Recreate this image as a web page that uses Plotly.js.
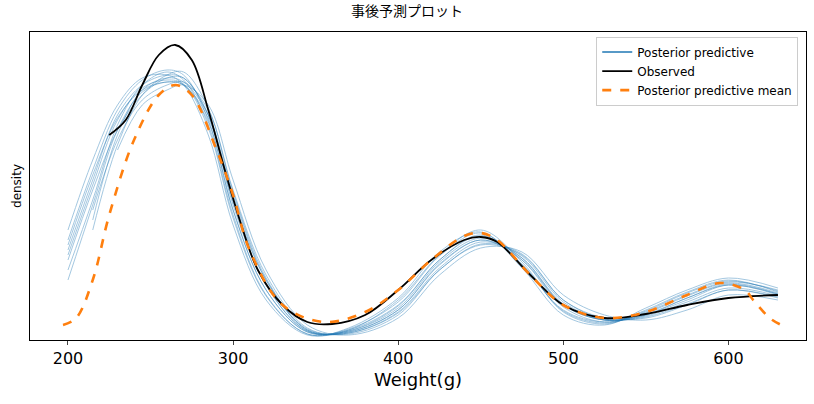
<!DOCTYPE html>
<html lang="ja">
  <head>
    <meta charset="UTF-8" />
    <script src="https://cdn.plot.ly/plotly-3.0.1.min.js"></script>
    <style>
      body { margin: 0; background: #fff; }
      #plot { width: 814px; height: 404px; }
    </style>
  </head>
  <body>
    <div id="plot"></div>
    <script>
      // weight grid shared by the posterior predictive draws
      const gridX = [200, 215, 230, 245, 260, 270, 285, 300, 320, 345, 370, 400, 425, 450, 475, 500, 525, 550, 575, 600, 630];
      const ppDraws = [
        [80, 150, 210, 245, 262, 262, 225, 140, 60, 10, 8, 30, 75, 100, 80, 35, 20, 25, 40, 55, 45],
        [100, 170, 230, 260, 270, 265, 220, 130, 50, 8, 10, 35, 80, 105, 75, 30, 18, 28, 45, 58, 50],
        [null, 130, 200, 240, 255, 258, 230, 150, 65, 12, 6, 25, 70, 95, 85, 40, 22, 22, 35, 50, 42],
        [70, 140, 215, 255, 268, 260, 215, 125, 45, 6, 10, 40, 85, 110, 78, 28, 16, 30, 48, 60, 48],
        [null, null, 190, 235, 250, 255, 235, 160, 70, 15, 5, 22, 65, 92, 88, 45, 25, 20, 30, 45, 40],
        [110, 180, 235, 262, 265, 255, 205, 115, 40, 5, 12, 42, 88, 108, 72, 25, 15, 32, 50, 62, 52],
        [90, 160, 225, 255, 265, 262, 225, 135, 55, 9, 9, 32, 78, 102, 82, 35, 20, 26, 42, 56, 46],
        [null, 120, 205, 250, 262, 258, 225, 145, 60, 11, 7, 28, 72, 98, 84, 38, 20, 24, 38, 52, 44],
        [60, 135, 210, 248, 258, 255, 218, 130, 50, 8, 9, 34, 80, 104, 80, 33, 18, 27, 44, 57, 47],
        [95, 165, 222, 250, 258, 255, 222, 138, 55, 9, 8, 30, 76, 100, 82, 36, 20, 25, 42, 55, 46],
        [null, 110, 195, 245, 265, 268, 232, 148, 62, 10, 7, 27, 70, 96, 86, 40, 21, 23, 36, 50, 43],
        [85, 155, 220, 252, 260, 256, 212, 122, 44, 6, 11, 38, 84, 107, 76, 29, 17, 29, 47, 59, 49]
      ];

      const obsX = [225, 235, 245, 255, 265, 275, 285, 295, 305, 315, 330, 345, 360, 380, 400, 420, 440, 450, 460, 480, 500, 525, 550, 575, 600, 630];
      const obsY = [205, 220, 255, 285, 295, 280, 230, 170, 115, 70, 35, 18, 16, 25, 50, 80, 100, 103, 98, 65, 35, 22, 26, 35, 42, 45];

      const meanX = [197, 205, 215, 225, 240, 255, 265, 275, 290, 300, 310, 330, 355, 380, 400, 420, 440, 450, 460, 480, 500, 525, 550, 575, 595, 610, 615, 625, 632];
      const meanY = [15, 22, 60, 125, 200, 245, 255, 245, 190, 145, 90, 35, 18, 28, 50, 80, 104, 107, 100, 65, 35, 22, 28, 45, 57, 50, 40, 22, 15];

      const blue = "#1f77b4";
      const traces = ppDraws.map((ys) => ({
        x: gridX, y: ys, type: "scatter", mode: "lines",
        line: { color: blue, width: 0.9, shape: "spline" },
        opacity: 0.45, showlegend: false, hoverinfo: "skip"
      }));
      traces.push({
        x: [null], y: [null], type: "scatter", mode: "lines",
        name: "Posterior predictive", line: { color: blue, width: 1.5 }
      });
      traces.push({
        x: obsX, y: obsY, type: "scatter", mode: "lines", name: "Observed",
        line: { color: "black", width: 1.8, shape: "spline" }
      });
      traces.push({
        x: meanX, y: meanY, type: "scatter", mode: "lines", name: "Posterior predictive mean",
        line: { color: "#ff7f0e", width: 2.6, dash: "dash", shape: "spline" }
      });

      Plotly.newPlot("plot", traces, {
        width: 814, height: 404,
        margin: { l: 30, r: 8, t: 32, b: 64 },
        font: { family: "DejaVu Sans, Noto Sans CJK JP, sans-serif", color: "#000" },
        paper_bgcolor: "white", plot_bgcolor: "white",
        title: { text: "事後予測プロット", font: { size: 14 }, x: 0.5, y: 0.985, yanchor: "top" },
        xaxis: {
          range: [177, 647], tickvals: [200, 300, 400, 500, 600],
          ticks: "outside", ticklen: 4, tickfont: { size: 16 },
          showgrid: false, zeroline: false, showline: true, mirror: true, linecolor: "black",
          title: { text: "Weight(g)", font: { size: 18 }, standoff: 6 }
        },
        yaxis: {
          range: [0, 308], showticklabels: false, ticks: "",
          showgrid: false, zeroline: false, showline: true, mirror: true, linecolor: "black",
          title: { text: "density", font: { size: 12 }, standoff: 4 }
        },
        legend: {
          x: 0.99, y: 0.985, xanchor: "right", yanchor: "top",
          bordercolor: "#ccc", borderwidth: 1, bgcolor: "rgba(255,255,255,0.85)",
          font: { size: 12 }
        }
      }, { displayModeBar: false });
    </script>
  </body>
</html>
